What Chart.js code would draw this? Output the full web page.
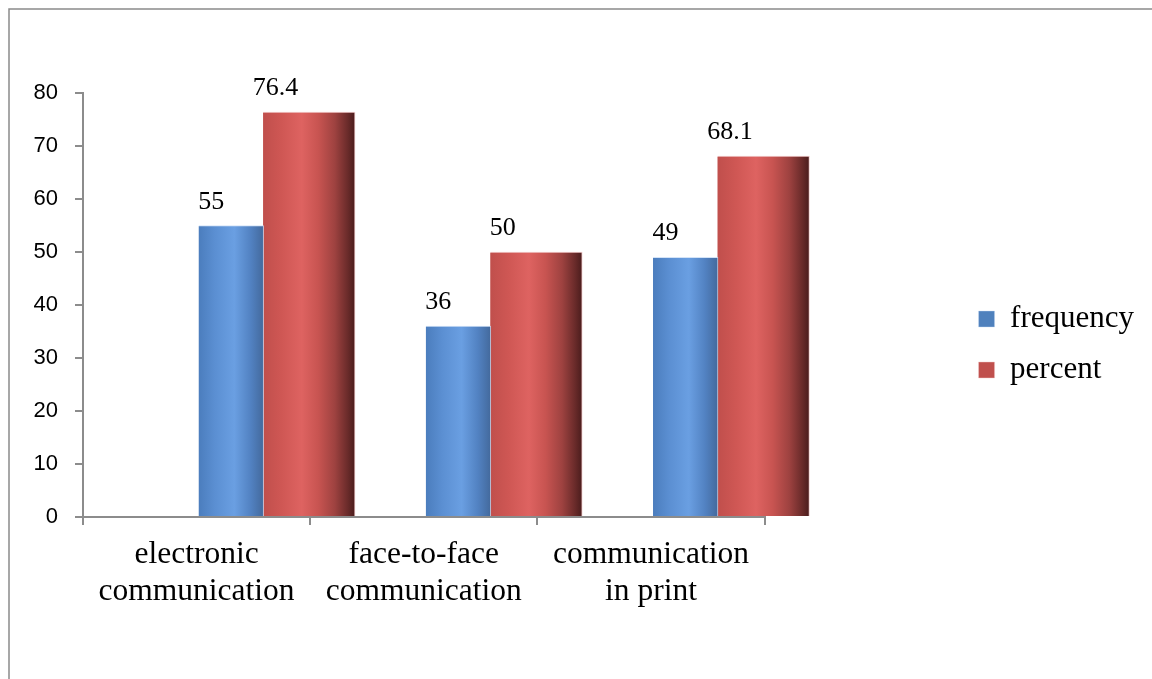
<!DOCTYPE html>
<html>
<head>
<meta charset="utf-8">
<script src="https://cdn.jsdelivr.net/npm/chart.js@4.4.0/dist/chart.umd.min.js"></script>
<style>
  html, body { margin: 0; padding: 0; background: #ffffff; }
  #wrap { width: 1152px; height: 679px; }
</style>
</head>
<body>
<div id="wrap"><canvas id="chart" width="1152" height="679"></canvas></div>
<script>
// Survey results: preferred ways of communication
const categories = [
  ['electronic', 'communication'],
  ['face-to-face', 'communication'],
  ['communication', 'in print']
];
const seriesNames = ['frequency', 'percent'];
const frequency = [55, 36, 49];
const percent = [76.4, 50, 68.1];
const yTickStep = 10;
const yMax = 80;

// Bar placement inside each category slot (fraction of a slot, from its centre)
const FREQ_SHIFT = 0.152;
const PCT_SHIFT = 0.495;
const FREQ_WIDTH = 65;
const PCT_WIDTH = 92;

const BLUE = '#4F81BD';
const RED = '#C0504D';
const blueStops = [[0, '#4b7dbd'], [0.25, '#5b8fd2'], [0.55, '#6a9fe2'], [0.8, '#5282c2'], [1, '#43699c']];
const redStops = [[0, '#c04f4c'], [0.2, '#cf5754'], [0.42, '#de6361'], [0.6, '#c85451'], [0.78, '#9e4240'], [0.92, '#6a2b2a'], [1, '#4a1c1c']];

// Horizontal shading across each bar, built from the bar's own element geometry
const shadePlugin = {
  id: 'shade',
  beforeDatasetsDraw(chart) {
    const stopsFor = [blueStops, redStops];
    chart.data.datasets.forEach((ds, i) => {
      const meta = chart.getDatasetMeta(i);
      meta.data.forEach((el) => {
        const x0 = el.x - el.width / 2;
        const x1 = el.x + el.width / 2;
        if (!isFinite(x0) || !isFinite(x1)) return;
        const g = chart.ctx.createLinearGradient(x0, 0, x1, 0);
        stopsFor[i].forEach(([o, c]) => g.addColorStop(o, c));
        el.options = Object.assign({}, el.options, { backgroundColor: g });
      });
    });
  }
};

const edgeWidth = (ctx) => (ctx.type === 'data' ? { top: 1, right: 1, left: 0, bottom: 0 } : 0);
const toPoints = (values, shift) => values.map((v, i) => ({ x: i + shift, y: v }));

// Thin grey frame along the top and left of the figure
const framePlugin = {
  id: 'frame',
  beforeDraw(chart) {
    const c = chart.ctx;
    c.save();
    c.strokeStyle = '#8a8a8a';
    c.lineWidth = 1.5;
    c.beginPath();
    c.moveTo(9, chart.height + 5);
    c.lineTo(9, 9);
    c.lineTo(chart.width + 5, 9);
    c.stroke();
    c.restore();
  }
};

// Value labels above each bar
const valueLabels = {
  id: 'valueLabels',
  afterDatasetsDraw(chart) {
    const c = chart.ctx;
    c.save();
    c.font = '26px "Liberation Serif"';
    c.fillStyle = '#000000';
    c.textAlign = 'center';
    c.textBaseline = 'alphabetic';
    chart.data.datasets.forEach((ds, i) => {
      const meta = chart.getDatasetMeta(i);
      meta.data.forEach((el, j) => {
        const left = el.x - el.width / 2;
        c.fillText(String(ds.data[j].y), left + 12.5, el.y - 17);
      });
    });
    c.restore();
  }
};

new Chart(document.getElementById('chart'), {
  type: 'bar',
  data: {
    labels: categories,
    datasets: [
      {
        label: seriesNames[0],
        data: toPoints(frequency, FREQ_SHIFT),
        xAxisID: 'xb',
        yAxisID: 'y',
        barThickness: FREQ_WIDTH,
        grouped: false,
        clip: false,
        backgroundColor: BLUE,
        borderColor: 'rgba(200,220,245,0.8)',
        borderWidth: edgeWidth,
        borderSkipped: false
      },
      {
        label: seriesNames[1],
        data: toPoints(percent, PCT_SHIFT),
        xAxisID: 'xb',
        yAxisID: 'y',
        barThickness: PCT_WIDTH,
        grouped: false,
        clip: false,
        backgroundColor: RED,
        borderColor: 'rgba(240,200,200,0.9)',
        borderWidth: edgeWidth,
        borderSkipped: false
      }
    ]
  },
  options: {
    responsive: false,
    animation: false,
    devicePixelRatio: 1,
    events: [],
    layout: { padding: { top: 10, right: 8, left: 0, bottom: 0 } },
    scales: {
      x: {
        type: 'category',
        position: 'bottom',
        offset: true,
        z: 1,
        grid: { offset: true, drawOnChartArea: false, color: '#8c8c8c', lineWidth: 2, tickLength: 8 },
        border: { color: '#8c8c8c', width: 2 },
        ticks: {
          color: '#000000',
          font: { family: 'Liberation Serif', size: 31.5, lineHeight: 1.175 },
          padding: 11,
          maxRotation: 0,
          autoSkip: false
        },
        afterFit: (s) => { s.height = 162; }
      },
      xb: { type: 'linear', display: false, min: -0.5, max: 2.5, offset: false },
      xt: {
        type: 'linear', position: 'top', display: true,
        grid: { display: false }, border: { display: false }, ticks: { display: false },
        afterFit: (s) => { s.height = 83; }
      },
      y: {
        position: 'left',
        min: 0,
        max: yMax,
        ticks: {
          stepSize: yTickStep,
          color: '#000000',
          font: { family: 'Liberation Sans', size: 22 },
          padding: 17
        },
        grid: { drawOnChartArea: false, color: '#8c8c8c', lineWidth: 2, tickLength: 8 },
        border: { color: '#8c8c8c', width: 2 },
        afterFit: (s) => { s.width = 83; }
      },
      ys: {
        type: 'linear', position: 'right', display: true,
        grid: { display: false }, border: { display: false }, ticks: { display: false },
        afterFit: (s) => { s.width = 194; }
      }
    },
    plugins: {
      legend: {
        position: 'right',
        align: 'center',
        labels: {
          boxWidth: 16,
          boxHeight: 16,
          padding: 20,
          color: '#000000',
          font: { family: 'Liberation Serif', size: 31 }
        }
      },
      tooltip: { enabled: false },
      title: { display: false }
    }
  },
  plugins: [framePlugin, shadePlugin, valueLabels]
});
</script>
</body>
</html>
